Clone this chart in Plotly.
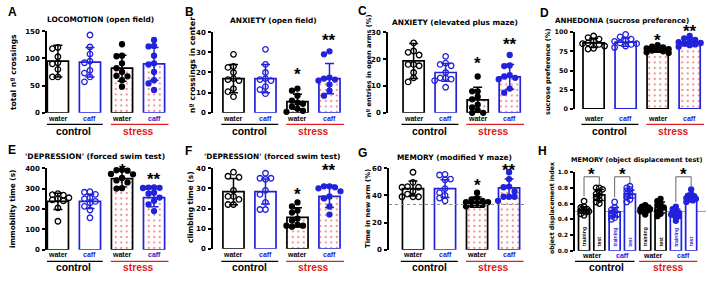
import plotly.graph_objects as go

W, H = 708, 281
BLACK = "#000000"
BLUE = "#2222dd"
RED = "#e02020"
FONT = "Arial, Liberation Sans, sans-serif"
WIDE = "DejaVu Sans, sans-serif"

# ---------------- data ----------------
cat_labels = ["water", "caff", "water", "caff"]
group_labels = ["control", "stress"]

A_mean = [95, 93, 82, 90]
A_sd = [29, 27, 24, 30]
A_pts = [[120, 118, 103, 92, 90, 80, 66, 66],
         [143, 121, 108, 95, 92, 78, 73, 66, 57],
         [126, 105, 104, 91, 82, 75, 68, 67, 60, 48],
         [134, 123, 122, 105, 91, 89, 75, 60, 54, 42]]

B_mean = [17, 17, 5.5, 17]
B_sd = [7, 7, 3.7, 7.5]
B_pts = [[29, 23, 22.5, 20, 17, 16.5, 16, 12, 10.5, 8],
         [31.5, 24, 20, 17, 16.5, 16, 13, 11.5, 9.5],
         [12, 11, 8.5, 6, 5, 4.5, 3, 2, 1, 0.5],
         [30.5, 29, 17.5, 17, 16.5, 16, 14, 11, 8.5]]

C_mean = [19.3, 15, 4.8, 13.4]
C_sd = [6.5, 3.3, 4.7, 4.6]
C_pts = [[26, 23, 22.5, 21.5, 18, 18, 17.5, 15, 13, 11.5],
         [21, 18.5, 18, 17.5, 15, 13, 13, 12.5, 12, 9.5],
         [13.5, 8, 8, 6, 5, 3, 2, 1, 0, 0],
         [21.5, 17.6, 17.4, 14, 13.5, 13, 12.5, 9, 7.5]]

D_mean = [86, 87, 77.5, 87]
D_sd = [6, 5.5, 3.5, 5]
D_pts = [[95, 93, 91, 88, 86, 85, 84, 82, 79, 78],
         [97, 94, 91, 89, 88, 86, 85, 84, 82, 80],
         [83, 81, 80, 79, 78, 77, 76, 75, 74, 73],
         [95, 92, 90, 88, 87, 86, 85, 84, 83, 81]]

E_mean = [237, 237, 349, 256]
E_sd = [40, 35, 40, 45]
E_pts = [[275, 270, 268, 262, 255, 250, 245, 240, 205, 140],
         [285, 282, 272, 255, 250, 237, 230, 213, 195, 157],
         [392, 390, 388, 372, 370, 352, 340, 330, 302, 300],
         [306, 305, 304, 303, 280, 275, 256, 240, 222, 190]]

F_mean = [28.4, 28.4, 15.6, 26]
F_sd = [6.5, 6.2, 4.8, 5.5]
F_pts = [[38, 36, 35.5, 29, 26, 26, 24.5, 22, 22],
         [37.5, 35, 35, 34.5, 29, 27, 23, 19.5, 19.5],
         [23, 21, 19, 18, 15, 14, 12, 11.5, 11.5, 11],
         [31, 31, 30.5, 30, 28.5, 26, 25, 21, 17]]

G_mean = [45, 45, 35, 45.6]
G_sd = [5.5, 6.5, 3.8, 6.5]
G_pts = [[57, 49.5, 46.5, 46, 46, 43, 41, 39, 39, 39],
         [55.5, 55, 52, 51.5, 45, 42, 40, 38, 36],
         [42, 38, 37, 36, 35, 35, 34, 33, 33, 32],
         [57, 52, 46.5, 46, 43, 39, 39, 39, 36]]
G_chance = 33.3

H_sub = ["training", "test"] * 4
H_mean = [0.52, 0.71, 0.49, 0.72, 0.53, 0.55, 0.48, 0.68]
H_sd = [0.04, 0.07, 0.06, 0.05, 0.04, 0.07, 0.05, 0.04]
H_pts = [[0.63, 0.56, 0.55, 0.53, 0.52, 0.51, 0.50, 0.49, 0.47, 0.45],
         [0.80, 0.80, 0.78, 0.74, 0.72, 0.70, 0.68, 0.65, 0.62, 0.60],
         [0.62, 0.55, 0.52, 0.50, 0.48, 0.47, 0.46, 0.44, 0.42, 0.40],
         [0.82, 0.80, 0.78, 0.76, 0.74, 0.72, 0.70, 0.68, 0.65, 0.62],
         [0.58, 0.56, 0.55, 0.54, 0.53, 0.53, 0.52, 0.51, 0.50, 0.46],
         [0.66, 0.63, 0.60, 0.58, 0.56, 0.55, 0.52, 0.50, 0.47, 0.44],
         [0.56, 0.53, 0.51, 0.49, 0.48, 0.47, 0.46, 0.44, 0.42, 0.38],
         [0.78, 0.72, 0.70, 0.69, 0.68, 0.67, 0.66, 0.65, 0.64, 0.62]]
H_chance = 0.5
H_sig_pairs = [(0, 1), (2, 3), (6, 7)]

# ---------------- layout config ----------------
def px(x):
    return x / W

def py(y):
    return 1 - y / H

panels = [
    dict(letter="A", title="LOCOMOTION (open field)", ytitle="total nº crossings",
         mean=A_mean, sd=A_sd, pts=A_pts, xdom=(47, 172), ydom=(112, 28), xr=(-0.34, 3.56),
         yr=(0, 150), ticks=[0, 50, 100, 150], stars={},
         lpos=(12, 8), tpos=(100, 16), ytpos=(13, 70), row=1, fs=(7.4, 7.6, 7.0)),
    dict(letter="B", title="ANXIETY (open field)", ytitle="nº crossings in center",
         mean=B_mean, sd=B_sd, pts=B_pts, xdom=(213, 345), ydom=(112, 29), xr=(-0.64, 3.485),
         yr=(0, 40), ticks=[0, 10, 20, 30, 40], stars={2: ("*", 21), 3: ("**", 38)},
         lpos=(189, 8), tpos=(273, 17), ytpos=(192, 63), row=1, fs=(7.4, 7.8, 7.0)),
    dict(letter="C", title="ANXIETY (elevated plus maze)", ytitle="nº entries in open arms (%)",
         mean=C_mean, sd=C_sd, pts=C_pts, xdom=(388, 527), ydom=(112, 29), xr=(-0.8, 3.54),
         yr=(0, 30), ticks=[0, 10, 20, 30], stars={2: ("*", 19.8), 3: ("**", 27)},
         lpos=(362, 7), tpos=(455, 19), ytpos=(369, 64), row=1, fs=(7.4, 6.6, 7.0)),
    dict(letter="D", title="ANHEDONIA (sucrose preference)", ytitle="sucrose preference (%)",
         mean=D_mean, sd=D_sd, pts=D_pts, xdom=(575, 706), ydom=(108, 29), xr=(-0.58, 3.51),
         yr=(0, 100), ticks=[0, 25, 50, 75, 100], stars={2: ("*", 94), 3: ("**", 106)},
         lpos=(544, 9), tpos=(622, 17), ytpos=(548, 70), row=1, fs=(7.1, 6.6, 6.4)),
    dict(letter="E", title="'DEPRESSION' (forced swim test)", ytitle="immobility time (s)",
         mean=E_mean, sd=E_sd, pts=E_pts, xdom=(47, 172), ydom=(253, 169), xr=(-0.34, 3.56),
         yr=(0, 400), ticks=[0, 100, 200, 300, 400], stars={2: ("*", 410), 3: ("**", 362)},
         lpos=(12, 150), tpos=(95, 157), ytpos=(13, 211), row=2, fs=(7.6, 7.3, 7.0)),
    dict(letter="F", title="'DEPRESSION' (forced swim test)", ytitle="climbing time (s)",
         mean=F_mean, sd=F_sd, pts=F_pts, xdom=(213, 345), ydom=(252, 169), xr=(-0.64, 3.485),
         yr=(0, 40), ticks=[0, 10, 20, 30, 40], stars={2: ("*", 29), 3: ("**", 41)},
         lpos=(188, 151), tpos=(272, 157), ytpos=(190, 209), row=2, fs=(7.4, 7.5, 7.0)),
    dict(letter="G", title="MEMORY (modified Y maze)", ytitle="Time in new arm (%)",
         mean=G_mean, sd=G_sd, pts=G_pts, xdom=(389, 527), ydom=(253, 169), xr=(-0.75, 3.56),
         yr=(0, 60), ticks=[0, 20, 40, 60], stars={2: ("*", 50.4), 3: ("**", 61)},
         lpos=(362, 153), tpos=(454, 158), ytpos=(368, 211), row=2, fs=(7.4, 6.8, 7.0)),
]

fig = go.Figure()
annotations = []
shapes = []
layout_axes = {}


def yval_to_paper(p, v):
    y0, y1 = py(p["ydom"][0]), py(p["ydom"][1])
    return y0 + (v - p["yr"][0]) / (p["yr"][1] - p["yr"][0]) * (y1 - y0)


def swarm(vals, ppy, ppx, d=5.5, cands=(0, -1, 1, -2, 2, -0.5, 0.5, -1.5, 1.5)):
    order = sorted(range(len(vals)), key=lambda i: -vals[i])
    placed = []
    offs = [0.0] * len(vals)
    for i in order:
        best, best_cost = cands[0], None
        for c in cands:
            cost = 0
            for (ox, v) in placed:
                dx = (c * d) - ox
                dy = (vals[i] - v) * ppy
                dist2 = dx * dx + dy * dy
                if dist2 < (d * 0.95) ** 2:
                    cost += (d * 0.95) ** 2 - dist2
            if cost == 0:
                best = c
                break
            if best_cost is None or cost < best_cost:
                best, best_cost = c, cost
        placed.append((best * d, vals[i]))
        offs[i] = best * d / ppx
    return offs


def add_axes(k, p, tick_size):
    xa = "xaxis" if k == 1 else f"xaxis{k}"
    ya = "yaxis" if k == 1 else f"yaxis{k}"
    layout_axes[xa] = dict(domain=[px(p["xdom"][0]), px(p["xdom"][1])], range=list(p["xr"]),
                           visible=False, anchor=f"y{k}", fixedrange=True)
    layout_axes[ya] = dict(domain=[py(p["ydom"][0]), py(p["ydom"][1])], range=list(p["yr"]),
                           anchor=f"x{k}", showline=True, linecolor=BLACK, linewidth=1.6,
                           ticks="outside", ticklen=3, tickwidth=1.6, tickcolor=BLACK,
                           tickvals=p["ticks"], showgrid=False, zeroline=False,
                           tickfont=dict(size=tick_size, family=WIDE, color=BLACK, weight="bold"),
                           ticklabelstandoff=1, fixedrange=True)


def text_ann(x, y, text, size, color=BLACK, xref="paper", yref="paper", angle=0,
             yanchor="middle", xanchor="center", yshift=0, family=FONT):
    annotations.append(dict(x=x, y=y, xref=xref, yref=yref, text=text, showarrow=False,
                            textangle=angle, xanchor=xanchor, yanchor=yanchor, yshift=yshift,
                            font=dict(size=size, family=family, color=color, weight="bold")))


def add_bars(k, p, positions, colors, patterned, width, ppx, swarm_kw=None):
    ppy = (p["ydom"][0] - p["ydom"][1]) / (p["yr"][1] - p["yr"][0])
    for j, pos in enumerate(positions):
        col = colors[j]
        marker = dict(color="white", line=dict(color=col, width=1.7))
        if patterned[j]:
            marker["pattern"] = dict(shape=".", fillmode="overlay", fgcolor=RED,
                                     size=5.5, solidity=0.14)
        fig.add_trace(go.Bar(x=[pos], y=[p["mean"][j]], width=width, marker=marker,
                             error_y=dict(type="data", array=[p["sd"][j]], color=col,
                                          thickness=1.5, width=4.5),
                             xaxis=f"x{k}", yaxis=f"y{k}", showlegend=False, hoverinfo="skip"))
    for j, pos in enumerate(positions):
        col = colors[j]
        vals = p["pts"][j]
        offs = swarm(vals, ppy, ppx, **(swarm_kw or {}))
        filled = p.get("filled", [False, False, True, True])[j]
        fig.add_trace(go.Scatter(
            x=[pos + o for o in offs], y=vals, mode="markers", cliponaxis=False,
            marker=dict(symbol="circle" if filled else "circle-open", size=5 if filled else 5.5,
                        color=col, line=dict(color=col, width=1.3)),
            xaxis=f"x{k}", yaxis=f"y{k}", showlegend=False, hoverinfo="skip"))


colors4 = [BLACK, BLUE, BLACK, BLUE]
for k, p in enumerate(panels, start=1):
    fs_title, fs_ytitle, fs_tick = p["fs"]
    add_axes(k, p, fs_tick)
    positions = [0, 1, 2, 3]
    add_bars(k, p, positions, colors4, [False, False, True, True], 0.66, 32)
    text_ann(px(p["lpos"][0]), py(p["lpos"][1]), p["letter"], 12)
    text_ann(px(p["tpos"][0]), py(p["tpos"][1]), p["title"], fs_title, family=WIDE)
    text_ann(px(p["ytpos"][0]), py(p["ytpos"][1]), p["ytitle"], fs_ytitle, angle=-90,
             family=WIDE)
    for j, (s, yv) in p["stars"].items():
        text_ann(positions[j], yval_to_paper(p, yv), s, 17, xref=f"x{k}", yshift=-4)
    row = p["row"]
    ylab, ygrp, yline = (118, 131, 124) if row == 1 else (258, 271, 265)
    for j, pos in enumerate(positions):
        text_ann(pos, py(ylab), cat_labels[j], 7, color=colors4[j], xref=f"x{k}")
    text_ann(0.5, py(ygrp), group_labels[0], 10.3, xref=f"x{k}")
    text_ann(2.5, py(ygrp), group_labels[1], 10.3, color=RED, xref=f"x{k}")
    shapes.append(dict(type="line", xref=f"x{k}", yref="paper", x0=-0.38, x1=1.4,
                       y0=py(yline), y1=py(yline), line=dict(color=BLACK, width=1.3)))
    shapes.append(dict(type="line", xref=f"x{k}", yref="paper", x0=1.65, x1=3.45,
                       y0=py(yline), y1=py(yline), line=dict(color=RED, width=1.3)))

# chance line in G
shapes.append(dict(type="line", xref="x7 domain", yref="y7", x0=0, x1=1, y0=G_chance, y1=G_chance,
                   line=dict(color="#888888", width=1, dash="dot"), layer="above"))

# ---------------- panel H ----------------
pH = dict(mean=H_mean, sd=H_sd, pts=H_pts, xdom=(575, 706), ydom=(254, 173), xr=(-0.59, 7.97),
          yr=(0, 1.0), ticks=[0, 0.2, 0.4, 0.6, 0.8, 1.0],
          filled=[False, False, False, False, True, True, True, True])
add_axes(8, pH, 5.8)
layout_axes["yaxis8"]["tickformat"] = ".1f"
shapes.append(dict(type="line", xref="x8 domain", yref="y8", x0=0, x1=1, y0=H_chance, y1=H_chance,
                   line=dict(color="#999999", width=1), layer="below"))
posH = list(range(8))
colH = [BLACK, BLACK, BLUE, BLUE, BLACK, BLACK, BLUE, BLUE]
add_bars(8, pH, posH, colH, [False] * 8, 0.72, 15.3,
         swarm_kw=dict(d=3.2, cands=(0, -1, 1, -0.5, 0.5, -1.5, 1.5)))
for j in posH:
    text_ann(j, 0.03, H_sub[j], 5.2, color=colH[j], xref="x8", yref="y8", angle=-90,
             yanchor="bottom")
for (a, b) in H_sig_pairs:
    top = 0.94
    fig.add_trace(go.Scatter(x=[a, a, b, b],
                             y=[max(H_pts[a]) + 0.06, top, top, max(H_pts[b]) + 0.04],
                             mode="lines", line=dict(color="#666666", width=1),
                             cliponaxis=False, xaxis="x8", yaxis="y8", showlegend=False,
                             hoverinfo="skip"))
    text_ann((a + b) / 2, yval_to_paper(pH, 1.02), "*", 17, xref="x8", yshift=-4)
text_ann(px(542), py(151), "H", 12)
text_ann(px(636), py(161), "MEMORY (object displacement test)", 6.5, family=WIDE)
text_ann(px(552), py(210), "object displacement index", 6.2, angle=-90, family=WIDE)
hlab = [0.5, 2.5, 4.5, 6.5]
for j, xv in enumerate(hlab):
    text_ann(xv, py(259), cat_labels[j], 7, color=colors4[j], xref="x8")
text_ann(1.5, py(271), group_labels[0], 10.3, xref="x8")
text_ann(5.5, py(271), group_labels[1], 10.3, color=RED, xref="x8")
shapes.append(dict(type="line", xref="x8", yref="paper", x0=-0.6, x1=3.3,
                   y0=py(265), y1=py(265), line=dict(color=BLACK, width=1.3)))
shapes.append(dict(type="line", xref="x8", yref="paper", x0=3.6, x1=7.4,
                   y0=py(265), y1=py(265), line=dict(color=RED, width=1.3)))

fig.update_layout(width=W, height=H, margin=dict(l=0, r=0, t=0, b=0),
                  paper_bgcolor="white", plot_bgcolor="rgba(0,0,0,0)",
                  font=dict(family=FONT, color=BLACK), barmode="overlay",
                  annotations=annotations, shapes=shapes, showlegend=False, **layout_axes)
fig.write_html("out.html", config={"displayModeBar": False},
               post_script="document.body.style.margin='0px';document.body.style.overflow='hidden';")
